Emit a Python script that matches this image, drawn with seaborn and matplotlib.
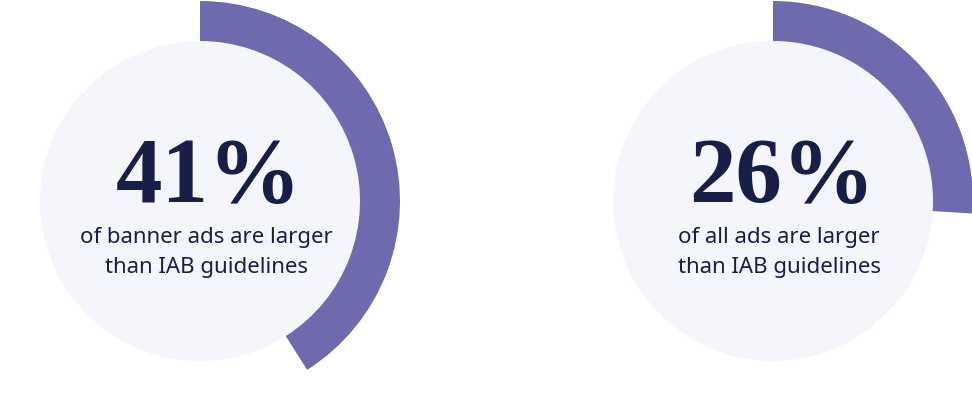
import matplotlib
matplotlib.use("Agg")
import matplotlib.pyplot as plt
import seaborn as sns

# chart data
labels = ["banner ads", "all ads"]
percents = [41, 26]
captions = ["of banner ads are larger\nthan IAB guidelines",
            "of all ads are larger\nthan IAB guidelines"]
centers_x = [200, 773]

sns.set_theme(style="white")
arc_color = "#6E6AAE"
disc_color = "#F5F6FB"
navy = "#171E48"

fig = plt.figure(figsize=(9.72, 4.01), dpi=100)
ax = fig.add_axes([0, 0, 1, 1])

cy = 200
for pct, cap, cx in zip(percents, captions, centers_x):
    # light inner disc
    ax.pie([1], radius=160, center=(cx, cy), colors=[disc_color],
           wedgeprops=dict(linewidth=0))
    # progress ring, clockwise from 12 o'clock
    ax.pie([pct, 100 - pct], radius=200, center=(cx, cy), startangle=90,
           counterclock=False, colors=[arc_color, "none"],
           wedgeprops=dict(width=40, linewidth=0))
    ax.text(cx + 9, cy - 1, f"{pct}%", ha="center", va="baseline",
            fontsize=67, fontweight="bold", color=navy,
            family="Liberation Serif")
    lines = cap.split("\n")
    ax.text(cx + 6, cy - 42, lines[0], ha="center", va="baseline",
            fontsize=16, color=navy, family="Noto Sans")
    ax.text(cx + 6, cy - 72, lines[1], ha="center", va="baseline",
            fontsize=16, color=navy, family="Noto Sans")

ax.set_xlim(0, 972)
ax.set_ylim(0, 401)
ax.set_aspect("equal")
ax.axis("off")

fig.savefig("out.png", dpi=100, facecolor="white")
